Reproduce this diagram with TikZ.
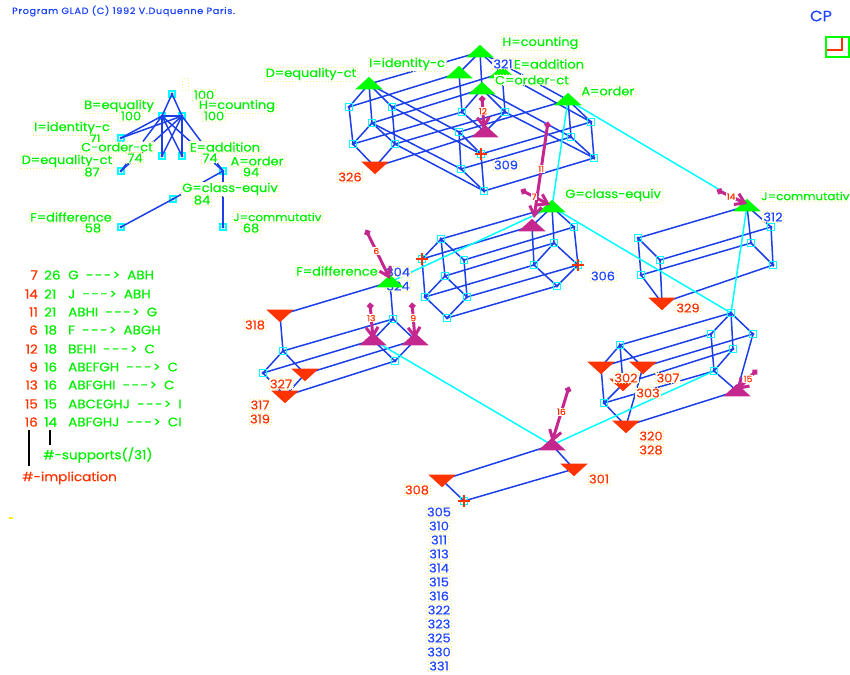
\documentclass[tikz,border=0pt]{standalone}
\usepackage{fontspec}
\setmainfont{Poppins}[FakeStretch=1.08,UprightFeatures={FakeBold=0.4}]
\usetikzlibrary{arrows.meta,shapes.geometric,shapes.misc}
\definecolor{edgeblue}{HTML}{1C3FE8}
\definecolor{textblue}{HTML}{1F45FF}
\definecolor{glgreen}{HTML}{00F000}
\definecolor{glred}{HTML}{FF3300}
\definecolor{glpink}{HTML}{C4288F}
\definecolor{glcyan}{HTML}{00FFFF}
\definecolor{dotyellow}{HTML}{F6F08C}
\newcommand{\glarrow}{-\kern1.5pt-\kern1.5pt-\kern1.5pt>}
\tikzset{
  edge/.style={edgeblue,line width=1.5pt},
  cover/.style={glcyan,line width=1.5pt},
  conc/.style={draw=glcyan,line width=1.2pt,inner sep=0pt,minimum size=7pt,
    path picture={\fill[edgeblue] (path picture bounding box.center) circle (1.6);}},
  smallconc/.style={conc,minimum size=6pt},
  crossconc/.style={draw=glcyan,line width=1.2pt,inner sep=0pt,minimum size=7pt},
  crossmark/.style={cross out,draw=glred,line width=1.6pt,inner sep=0pt,minimum size=6.5pt,rotate=45},
  uptri/.style={isosceles triangle,isosceles triangle apex angle=95,shape border rotate=90,
    inner sep=0pt,minimum height=12.5pt,minimum width=26pt,fill=#1},
  downtri/.style={uptri=#1,shape border rotate=-90},
  lab/.style={draw=dotyellow,line width=.7pt,dash pattern=on .7pt off 2.3pt,fill=white,inner sep=1pt,font=\fontsize{12}{13}\selectfont},
  attr/.style={lab,text=glgreen},
  objr/.style={lab,text=glred},
  objb/.style={lab,text=textblue},
  implarrow/.style={glpink,line width=3pt,{Circle[length=6pt,width=6pt]}-{Straight Barb[length=9pt,width=12pt]}},
  impllab/.style={fill=white,text=glred,font=\fontsize{8.5}{9}\selectfont,inner sep=0.6pt},
  txtline/.style={anchor=west,inner sep=0pt,font=\fontsize{12.5}{14}\selectfont},
}
\begin{document}
\begin{tikzpicture}[x=1pt,y=-1pt]
\useasboundingbox[fill=white] (0,0) rectangle (850,674);

% Header
\node[txtline,text=textblue,font=\fontsize{9}{10}\selectfont\addfontfeature{LetterSpace=7}] (title) at (12,11) {Program GLAD (C) 1992 V.Duquenne Paris.};
\node[text=textblue,inner sep=0pt,font=\fontsize{15}{16}\selectfont] (cp) at (821,16) {CP};
\node[draw=green,line width=1.4pt,minimum width=23pt,minimum height=20pt,inner sep=0pt] (frame) at (837.5,47) {};
\coordinate (v1) at (842,38);
\coordinate (v2) at (842,50);
\coordinate (v3) at (827,50);
\draw[glred,line width=1.2pt] (v1) -- (v2) -- (v3);
\node[draw=dotyellow,line width=.7pt,dash pattern=on .7pt off 2.3pt,inner sep=0pt,minimum width=6pt,minimum height=12pt] (spare) at (185,84) {};
\node[fill=yellow,inner sep=0pt,minimum width=4pt,minimum height=1.5pt] (spot) at (11,518) {};

% Small line diagram
\node[smallconc] (sT) at (172,94) {};
\node[smallconc] (sB) at (162,116) {};
\node[smallconc] (sH) at (182,116) {};
\node[smallconc] (sI) at (121,138) {};
\node[smallconc] (sC) at (162,156) {};
\node[smallconc] (sE) at (182,156) {};
\node[smallconc] (sD) at (121,171) {};
\node[smallconc] (sA) at (223,171) {};
\node[smallconc] (sG) at (173,199) {};
\node[smallconc] (sF) at (121,227) {};
\node[smallconc] (sJ) at (223,227) {};
\draw[edge] (sT.center) -- (sB.center);
\draw[edge] (sT.center) -- (sH.center);
\draw[edge] (sB.center) -- (sH.center);
\draw[edge] (sB.center) -- (sI.center);
\draw[edge] (sH.center) -- (sI.center);
\draw[edge] (sB.center) -- (sC.center);
\draw[edge] (sH.center) -- (sC.center);
\draw[edge] (sB.center) -- (sE.center);
\draw[edge] (sH.center) -- (sE.center);
\draw[edge] (sB.center) -- (sD.center);
\draw[edge] (sH.center) -- (sD.center);
\draw[edge] (sB.center) -- (sA.center);
\draw[edge] (sH.center) -- (sA.center);
\draw[edge] (sA.center) -- (sG.center);
\draw[edge] (sG.center) -- (sF.center);
\draw[edge] (sA.center) -- (sJ.center);
\node[attr] at (204,95) {100};
\node[attr] at (119,106) {B=equality};
\node[attr] at (131,116) {100};
\node[attr] at (237,106) {H=counting};
\node[attr] at (214,116) {100};
\node[attr] at (72,128) {I=identity-c};
\node[attr] at (95,139) {71};
\node[attr] at (117,147) {C-order-ct};
\node[attr] at (135,158) {74};
\node[attr] at (225,147) {E=addition};
\node[attr] at (210,158) {74};
\node[attr] at (67,161) {D=equality-ct};
\node[attr] at (92,172) {87};
\node[attr] at (257,161) {A=order};
\node[attr] at (251,172) {94};
\node[attr] at (230,189) {G=class-equiv};
\node[attr] at (202,200) {84};
\node[attr] at (71,217) {F=difference};
\node[attr] at (93,228) {58};
\node[attr,anchor=west,font=\fontsize{11}{13}\selectfont] at (232,217) {J=commutativ};
\node[attr] at (251,228) {68};

% Implication list
\foreach \yy/\nimp/\nsup/\txt in {
  275/7/26/{G\ \ \glarrow\ \ ABH},
  294/14/21/{J\ \ \glarrow\ \ ABH},
  312/11/21/{ABHI\ \ \glarrow\ \ G},
  330/6/18/{F\ \ \glarrow\ \ ABGH},
  349/12/18/{BEHI\ \ \glarrow\ \ C},
  367/9/16/{ABEFGH\ \ \glarrow\ \ C},
  385/13/16/{ABFGHI\ \ \glarrow\ \ C},
  404/15/15/{ABCEGHJ\ \ \glarrow\ \ I},
  422/16/14/{ABFGHJ\ \ \glarrow\ \ CI}}{
  \node[txtline,text=glred,anchor=east] at (38,\yy) {\nimp};
  \node[txtline,text=glgreen] at (44,\yy) {\nsup};
  \node[txtline,text=glgreen] at (68,\yy) {\txt};
}
\node[txtline,text=glgreen] (lsup) at (43,455) {\#-supports(/31)};
\node[txtline,text=glred] (limp) at (22,478) {\#-implication};
\coordinate (b1) at (29,430);
\coordinate (b2) at (29,466);
\coordinate (b3) at (50,430);
\coordinate (b4) at (50,445);
\draw[black,line width=1.4pt] (b1) -- (b2);
\draw[black,line width=1.4pt] (b3) -- (b4);

% Block 1 (top)
\coordinate (D) at (369,84);
\coordinate (a1) at (349,107);
\coordinate (b11) at (392,107);
\coordinate (c1) at (372,123);
\coordinate (d1) at (353,144);
\coordinate (e1) at (395,144);
\coordinate (f1) at (375,167);
\coordinate (H) at (480,52);
\coordinate (I) at (459,73);
\coordinate (E) at (502,73);
\coordinate (C) at (482,89);
\coordinate (g1) at (462,112);
\coordinate (h1) at (505,112);
\coordinate (p12) at (485,132);
\coordinate (k1) at (459,132);
\coordinate (k2) at (481,154);
\coordinate (k3) at (461,169);
\coordinate (k4) at (484,191);
\coordinate (A) at (568,100);
\coordinate (m1) at (591,122);
\coordinate (m2) at (571,137);
\coordinate (m3) at (594,158);
\draw[edge] (D) -- (a1) -- (d1) -- (f1) -- (e1) -- (b11) -- (D) -- (c1) -- (d1);
\draw[edge] (c1) -- (e1);
\draw[edge] (E) -- (H) -- (I) -- (g1) -- (C) -- (H);
\draw[edge] (C) -- (h1) -- (E);
\draw[edge] (g1) -- (p12) -- (h1);
\draw[edge] (D) -- (H);
\draw[edge] (a1) -- (I);
\draw[edge] (b11) -- (E);
\draw[edge] (c1) -- (C);
\draw[edge] (d1) -- (g1);
\draw[edge] (e1) -- (h1);
\draw[edge] (f1) -- (p12);
\draw[edge] (D) -- (k1);
\draw[edge] (b11) -- (k2);
\draw[edge] (c1) -- (k3);
\draw[edge] (e1) -- (k4);
\draw[edge] (k1) -- (k2) -- (k4) -- (k3) -- (k1);
\draw[edge] (H) -- (A);
\draw[edge] (E) -- (m1);
\draw[edge] (C) -- (m2);
\draw[edge] (h1) -- (m3);
\draw[edge] (k1) -- (A);
\draw[edge] (k2) -- (m1);
\draw[edge] (k3) -- (m2);
\draw[edge] (k4) -- (m3);
\draw[edge] (A) -- (m1) -- (m3) -- (m2) -- (A);

% Block 2 (G)
\coordinate (u1) at (441,239);
\coordinate (u2) at (422,259);
\coordinate (u3) at (464,260);
\coordinate (u4) at (445,276);
\coordinate (u5) at (425,297);
\coordinate (u6) at (467,297);
\coordinate (u7) at (447,318);
\coordinate (G) at (552,207);
\coordinate (p11) at (532,226);
\coordinate (w3) at (574,227);
\coordinate (w4) at (554,243);
\coordinate (w5) at (534,265);
\coordinate (w6) at (578,265);
\coordinate (w7) at (557,286);
\draw[edge] (u1) -- (u2) -- (u5) -- (u7) -- (u6) -- (u3) -- (u1) -- (u4) -- (u5);
\draw[edge] (u4) -- (u6);
\draw[edge] (G) -- (p11) -- (w5) -- (w7) -- (w6) -- (w3) -- (G) -- (w4) -- (w5);
\draw[edge] (w4) -- (w6);
\draw[edge] (u1) -- (G);
\draw[edge] (u2) -- (p11);
\draw[edge] (u3) -- (w3);
\draw[edge] (u4) -- (w4);
\draw[edge] (u5) -- (w5);
\draw[edge] (u6) -- (w6);
\draw[edge] (u7) -- (w7);

% Block 3 (J)
\coordinate (J) at (747,206);
\coordinate (q1) at (638,238);
\coordinate (q2) at (660,260);
\coordinate (q3) at (641,275);
\coordinate (q4) at (662,303);
\coordinate (r2) at (771,227);
\coordinate (r3) at (751,243);
\coordinate (r4) at (773,265);
\draw[edge] (q1) -- (q2) -- (q4) -- (q3) -- (q1);
\draw[edge] (J) -- (r2) -- (r4) -- (r3) -- (J);
\draw[edge] (q1) -- (J);
\draw[edge] (q2) -- (r2);
\draw[edge] (q3) -- (r3);
\draw[edge] (q4) -- (r4);

% Block 4 (F)
\coordinate (F) at (390,282);
\coordinate (t1) at (280,315);
\coordinate (t2) at (283,351);
\coordinate (t3) at (263,373);
\coordinate (t4) at (305,374);
\coordinate (t5) at (285,396);
\coordinate (n1) at (393,319);
\coordinate (p13) at (373,340);
\coordinate (p9) at (415,340);
\coordinate (n2) at (395,361);
\draw[edge] (t1) -- (F) -- (n1);
\draw[edge] (t1) -- (t2) -- (t3) -- (t5) -- (t4) -- (t2);
\draw[edge] (t2) -- (n1);
\draw[edge] (t3) -- (p13);
\draw[edge] (t4) -- (p9);
\draw[edge] (t5) -- (n2);
\draw[edge] (n1) -- (p13) -- (n2) -- (p9) -- (n1);

% Block 5 (lower right)
\coordinate (x1) at (620,345);
\coordinate (x2) at (601,367);
\coordinate (x3) at (643,367);
\coordinate (x4) at (623,384);
\coordinate (x5) at (604,403);
\coordinate (x6) at (626,426);
\coordinate (y1) at (731,313);
\coordinate (y2) at (711,334);
\coordinate (y3) at (753,334);
\coordinate (y4) at (733,349);
\coordinate (y5) at (714,371);
\coordinate (p15) at (737,391);
\draw[edge] (x1) -- (x2) -- (x5) -- (x6) -- (x3) -- (x1) -- (x4) -- (x5);
\draw[edge] (y1) -- (y2) -- (y5) -- (p15) -- (y3) -- (y1) -- (y4) -- (y5);
\draw[edge] (x1) -- (y1);
\draw[edge] (x2) -- (y2);
\draw[edge] (x3) -- (y3);
\draw[edge] (x4) -- (y4);
\draw[edge] (x5) -- (y5);
\draw[edge] (x6) -- (p15);

% Block 6 (bottom)
\coordinate (p16) at (552,445);
\coordinate (z1) at (442,480);
\coordinate (z2) at (574,469);
\coordinate (z3) at (464,501);
\draw[edge] (z1) -- (p16) -- (z2) -- (z3) -- (z1);

% Links between blocks
\draw[cover] (A) -- (G);
\draw[cover] (A) -- (J);
\draw[cover] (G) -- (y1);
\draw[cover] (J) -- (y1);
\draw[cover] (F) -- (G);
\draw[cover] (p13) -- (p16);
\draw[cover] (p16) -- (y5);

% Objects hidden behind the F mark
\node[objb] at (398,272) {304};
\node[objb] at (398,286) {324};

% Concepts
\foreach \pp in {a1,b11,c1,d1,e1,g1,h1,k1,k3,k4,m1,m2,m3,u1,u3,u4,u5,u6,u7,w3,w4,w5,w7,
  q1,q2,q3,r2,r3,r4,t2,t3,n1,n2,x1,x5,y1,y2,y3,y4,y5}{
  \node[conc] at (\pp) {};
}
\foreach \pp in {k2,u2,w6,z3}{
  \node[crossconc] at (\pp) {};
  \node[crossmark] at (\pp) {};
}
\foreach \pp in {H,I,E,C,D,A,G,J,F}{
  \node[uptri=green] at (\pp) {};
}
\foreach \pp in {f1,q4,t1,t4,t5,x2,x3,x4,x6,z1,z2}{
  \node[downtri=glred] at (\pp) {};
}
\foreach \pp in {p12,p11,p13,p9,p15,p16}{
  \node[uptri=glpink] at (\pp) {};
}

% Labels
\node[attr,anchor=west] at (501,43) {H=counting};
\node[attr] at (407,64) {I=identity-c};
\node[objb] at (503,64) {321};
\node[attr] at (549,64) {E=addition};
\node[attr] at (532,80) {C=order-ct};
\node[attr] at (311,74) {D=equality-ct};
\node[attr,anchor=west] at (580,91) {A=order};
\node[attr,anchor=west] at (564,195) {G=class-equiv};
\node[attr,anchor=west,font=\fontsize{11}{13}\selectfont] at (760,196) {J=commutativ};
\node[attr] at (337,271) {F=difference};
\node[objr] at (350,177) {326};
\node[objb] at (506,165) {309};
\node[objb] at (603,276) {306};
\node[objb] at (773,217) {312};
\node[objr] at (688,308) {329};
\node[objr] at (255,325) {318};
\node[objr] at (281,384) {327};
\node[objr] at (260,405) {317};
\node[objr] at (260,419) {319};
\node[objr] at (626,378) {302};
\node[objr] at (668,378) {307};
\node[objr] at (648,393) {303};
\node[objr] at (651,436) {320};
\node[objr] at (651,450) {328};
\node[objr] at (417,490) {308};
\node[objr] at (599,479) {301};
\foreach \yy/\oo in {512/305,526/310,540/311,554/313,568/314,582/315,596/316,610/322,624/323,638/325,652/330,666/331}{
  \node[objb] at (439,\yy) {\oo};
}

% Implication arrows
\coordinate (s12) at (482,96);
\coordinate (e12) at (484,129);
\coordinate (s11) at (548,122);
\coordinate (e11) at (534,218);
\coordinate (s7) at (521,190);
\coordinate (e7) at (550,205);
\coordinate (s14) at (717,190);
\coordinate (e14) at (747,204);
\coordinate (s6) at (366,230);
\coordinate (e6) at (390,279);
\coordinate (s13) at (370,303);
\coordinate (e13) at (373,339);
\coordinate (s9) at (412,303);
\coordinate (e9) at (415,339);
\coordinate (s15) at (757,370);
\coordinate (e15) at (737,390);
\coordinate (s16) at (569,387);
\coordinate (e16) at (552,442);
\draw[implarrow] (s12) -- node[impllab,pos=.46] {12} (e12);
\draw[implarrow] (s11) -- node[impllab,pos=.49] {11} (e11);
\draw[implarrow] (s7) -- node[impllab,pos=.45] {7} (e7);
\draw[implarrow] (s14) -- node[impllab,pos=.47] {14} (e14);
\draw[implarrow] (s6) -- node[impllab,pos=.43] {6} (e6);
\draw[implarrow] (s13) -- node[impllab,pos=.42] {13} (e13);
\draw[implarrow] (s9) -- node[impllab,pos=.42] {9} (e9);
\draw[implarrow] (s15) -- node[impllab,pos=.45] {15} (e15);
\draw[implarrow] (s16) -- node[impllab,pos=.45] {16} (e16);
\end{tikzpicture}
\end{document}
